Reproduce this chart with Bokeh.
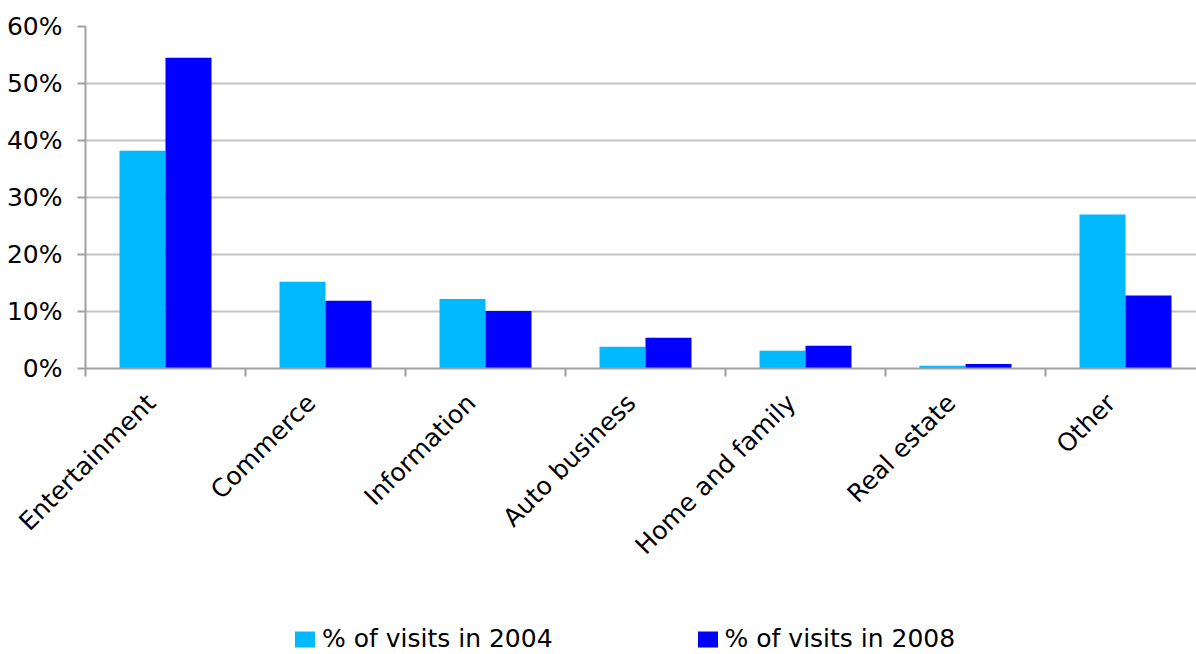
import math
from bokeh.plotting import figure
from bokeh.layouts import column
from bokeh.models import (Range1d, FixedTicker, NumeralTickFormatter, LinearAxis,
                          Legend, LegendItem, ColumnDataSource, Grid)
from bokeh.embed import file_html
from bokeh.resources import INLINE

categories = ["Entertainment", "Commerce", "Information", "Auto business",
              "Home and family", "Real estate", "Other"]
visits_2004 = [0.382, 0.152, 0.122, 0.038, 0.031, 0.005, 0.270]
visits_2008 = [0.545, 0.119, 0.101, 0.054, 0.040, 0.008, 0.128]
series_names = ["% of visits in 2004", "% of visits in 2008"]
y_ticks = [0.0, 0.1, 0.2, 0.3, 0.4, 0.5, 0.6]

FONT = "DejaVu Sans"
FS = "25px"
C2004 = "#00b9ff"
C2008 = "#0000ff"
AXIS_C = "#a0a0a0"
GRID_C = "#c4c4c4"

n = len(categories)
centers = [i + 0.5 for i in range(n)]
label_pos = [c - 0.09 for c in centers]
bar_w = 0.2875

fig_w = 1196
fig_h = 620
leg_h = 34
frame_left = 85
frame_top = 26
frame_bottom_y = 368
frame_w = fig_w - frame_left
x_end = frame_w / 160.0

p = figure(width=fig_w, height=fig_h, output_backend="svg", toolbar_location=None,
           x_range=Range1d(0, x_end), y_range=Range1d(0, 0.6),
           min_border_left=frame_left, min_border_right=0, min_border_top=frame_top,
           min_border_bottom=fig_h - frame_bottom_y, x_axis_type=None, y_axis_type=None)
p.outline_line_color = None
p.background_fill_color = "white"
p.border_fill_color = "white"

src = ColumnDataSource(dict(
    x04=[c - bar_w / 2 for c in centers],
    x08=[c + bar_w / 2 for c in centers],
    v04=visits_2004, v08=visits_2008))

# y axis
yax = LinearAxis(ticker=FixedTicker(ticks=y_ticks),
                 formatter=NumeralTickFormatter(format="0%"))
yax.axis_line_color = AXIS_C
yax.axis_line_width = 2
yax.major_tick_line_color = AXIS_C
yax.major_tick_line_width = 2
yax.major_tick_out = 8
yax.major_tick_in = 0
yax.minor_tick_line_color = None
yax.major_label_text_font = FONT
yax.major_label_text_font_size = FS
yax.major_label_text_color = "#000000"
yax.major_label_standoff = 15
p.add_layout(yax, "left")

g = Grid(dimension=1, ticker=yax.ticker, grid_line_color=GRID_C, grid_line_width=2)
p.add_layout(g)

r04 = p.vbar(x="x04", top="v04", bottom=0, width=bar_w, source=src,
             fill_color=C2004, line_color=None)
r08 = p.vbar(x="x08", top="v08", bottom=0, width=bar_w, source=src,
             fill_color=C2008, line_color=None)

# x axis
xax = LinearAxis(ticker=FixedTicker(ticks=label_pos, minor_ticks=list(range(n + 1))))
xax.major_label_overrides = {c: lab for c, lab in zip(label_pos, categories)}
xax.axis_line_color = AXIS_C
xax.axis_line_width = 2
xax.major_tick_line_color = None
xax.minor_tick_line_color = AXIS_C
xax.minor_tick_line_width = 2
xax.minor_tick_out = 8
xax.minor_tick_in = 0
xax.major_label_orientation = math.pi / 4
xax.major_label_text_font = FONT
xax.major_label_text_font_size = FS
xax.major_label_text_color = "#000000"
xax.major_label_standoff = 22
p.add_layout(xax, "below")

# legend strip (its swatches are drawn from hidden proxy glyphs outside the view)
pl = figure(width=fig_w, height=leg_h, output_backend="svg", toolbar_location=None,
            x_range=Range1d(0, 1), y_range=Range1d(0, 1),
            min_border_left=0, min_border_right=0, min_border_top=0, min_border_bottom=0,
            x_axis_type=None, y_axis_type=None)
pl.outline_line_color = None
pl.grid.visible = False
proxy = ColumnDataSource(dict(x=[-5.0], top=[0.0]))
l04 = pl.vbar(x="x", top="top", width=0.1, source=proxy, fill_color=C2004, line_color=None)
l08 = pl.vbar(x="x", top="top", width=0.1, source=proxy, fill_color=C2008, line_color=None)
legend = Legend(items=[LegendItem(label=series_names[0], renderers=[l04]),
                       LegendItem(label=series_names[1], renderers=[l08])],
                orientation="horizontal", location=(292 - frame_left, 1),
                glyph_width=25, glyph_height=20, label_standoff=5, spacing=142,
                padding=0, margin=0, border_line_color=None,
                background_fill_alpha=0, label_text_font=FONT,
                label_text_font_size=FS, label_text_color="#000000",
                label_height=22)
pl.add_layout(legend, "center")

layout = column(p, pl, spacing=0)
open("out.html", "w").write(file_html(layout, INLINE))
